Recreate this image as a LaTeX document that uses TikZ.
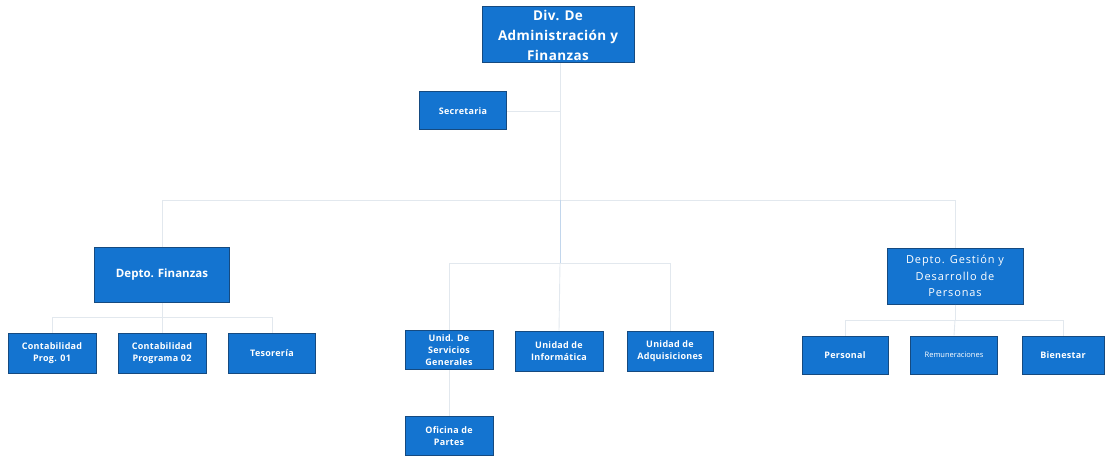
\documentclass[tikz,border=0pt]{standalone}
\usepackage{fontspec}
\setmainfont{Open Sans}
\begin{document}
\begin{tikzpicture}[x=1pt,y=-1pt,
  box/.style={draw=boxborder, line width=1pt, fill=boxfill, text=white, align=center, inner sep=1pt, font=\bfseries\fontsize{9}{12.3}\selectfont\addfontfeature{LetterSpace=3}},
  conn/.style={draw=connc, line width=0.9pt},
  connv/.style={draw=connb, line width=0.9pt}]
\definecolor{boxfill}{HTML}{1474D0}
\definecolor{boxborder}{HTML}{154A80}
\definecolor{connc}{HTML}{E2E8EE}
\definecolor{connb}{HTML}{C2D6EC}
\useasboundingbox (0,0) rectangle (1105,457);
% nodes
\node[box, minimum width=152pt, minimum height=56pt, font=\bfseries\fontsize{13.5}{20}\selectfont\addfontfeature{LetterSpace=3}] (top) at (558,35) {Div. De\\Administración y\\Finanzas};
\node[box, minimum width=87pt, minimum height=38pt] (sec) at (463,111) {Secretaria};
\node[box, minimum width=135pt, minimum height=55pt, font=\bfseries\fontsize{11.5}{13}\selectfont] (dfin) at (162,275) {Depto. Finanzas};
\node[box, minimum width=136pt, minimum height=56pt, font=\fontsize{11}{16.5}\selectfont\addfontfeature{LetterSpace=8}] (dges) at (955,276) {Depto. Gestión y\\Desarrollo de\\Personas};
\node[box, minimum width=88pt, minimum height=40pt] (c1) at (52,353) {Contabilidad\\Prog. 01};
\node[box, minimum width=88pt, minimum height=40pt] (c2) at (162,353) {Contabilidad\\Programa 02};
\node[box, minimum width=87pt, minimum height=40pt] (tes) at (272,353) {Tesorería};
\node[box, minimum width=88pt, minimum height=39pt, font=\bfseries\fontsize{9}{11.8}\selectfont\addfontfeature{LetterSpace=3}] (usg) at (449,350) {Unid. De\\Servicios\\Generales};
\node[box, minimum width=88pt, minimum height=40pt] (uinf) at (559,351) {Unidad de\\Informática};
\node[box, minimum width=86pt, minimum height=40pt] (uadq) at (670,351) {Unidad de\\Adquisiciones};
\node[box, minimum width=88pt, minimum height=39pt] (ofp) at (449,436) {Oficina de\\Partes};
\node[box, minimum width=86pt, minimum height=38pt] (per) at (845,355) {Personal};
\node[box, minimum width=87pt, minimum height=38pt, font=\fontsize{7.5}{8}\selectfont] (rem) at (954,355) {Remuneraciones};
\node[box, minimum width=82pt, minimum height=38pt] (bie) at (1063,355) {Bienestar};
% coordinates
\coordinate (hub) at (560,200);
\coordinate (mid) at (560,263);
\coordinate (fbar) at (162,317);
\coordinate (gbar) at (955,320);
% connectors
\draw[conn] (top.south -| hub) -- (hub);
\draw[conn] (sec.east) -- (sec.east -| hub);
\draw[conn] (dfin.north) -- (dfin.north |- hub) -- (dges.north |- hub) -- (dges.north);
\draw[connv] (hub) -- (mid);
\draw[conn] (usg.north) -- (usg.north |- mid) -- (uadq.north |- mid) -- (uadq.north);
\draw[conn] (mid) -- (uinf.north);
\draw[conn] (usg) -- (ofp);
\draw[conn] (dfin.south) -- (fbar);
\draw[conn] (c1.north) -- (c1.north |- fbar) -- (tes.north |- fbar) -- (tes.north);
\draw[conn] (fbar) -- (c2.north);
\draw[conn] (dges.south) -- (gbar);
\draw[conn] (per.north) -- (per.north |- gbar) -- (bie.north |- gbar) -- (bie.north);
\draw[conn] (gbar) -- (rem.north);
\end{tikzpicture}
\end{document}
